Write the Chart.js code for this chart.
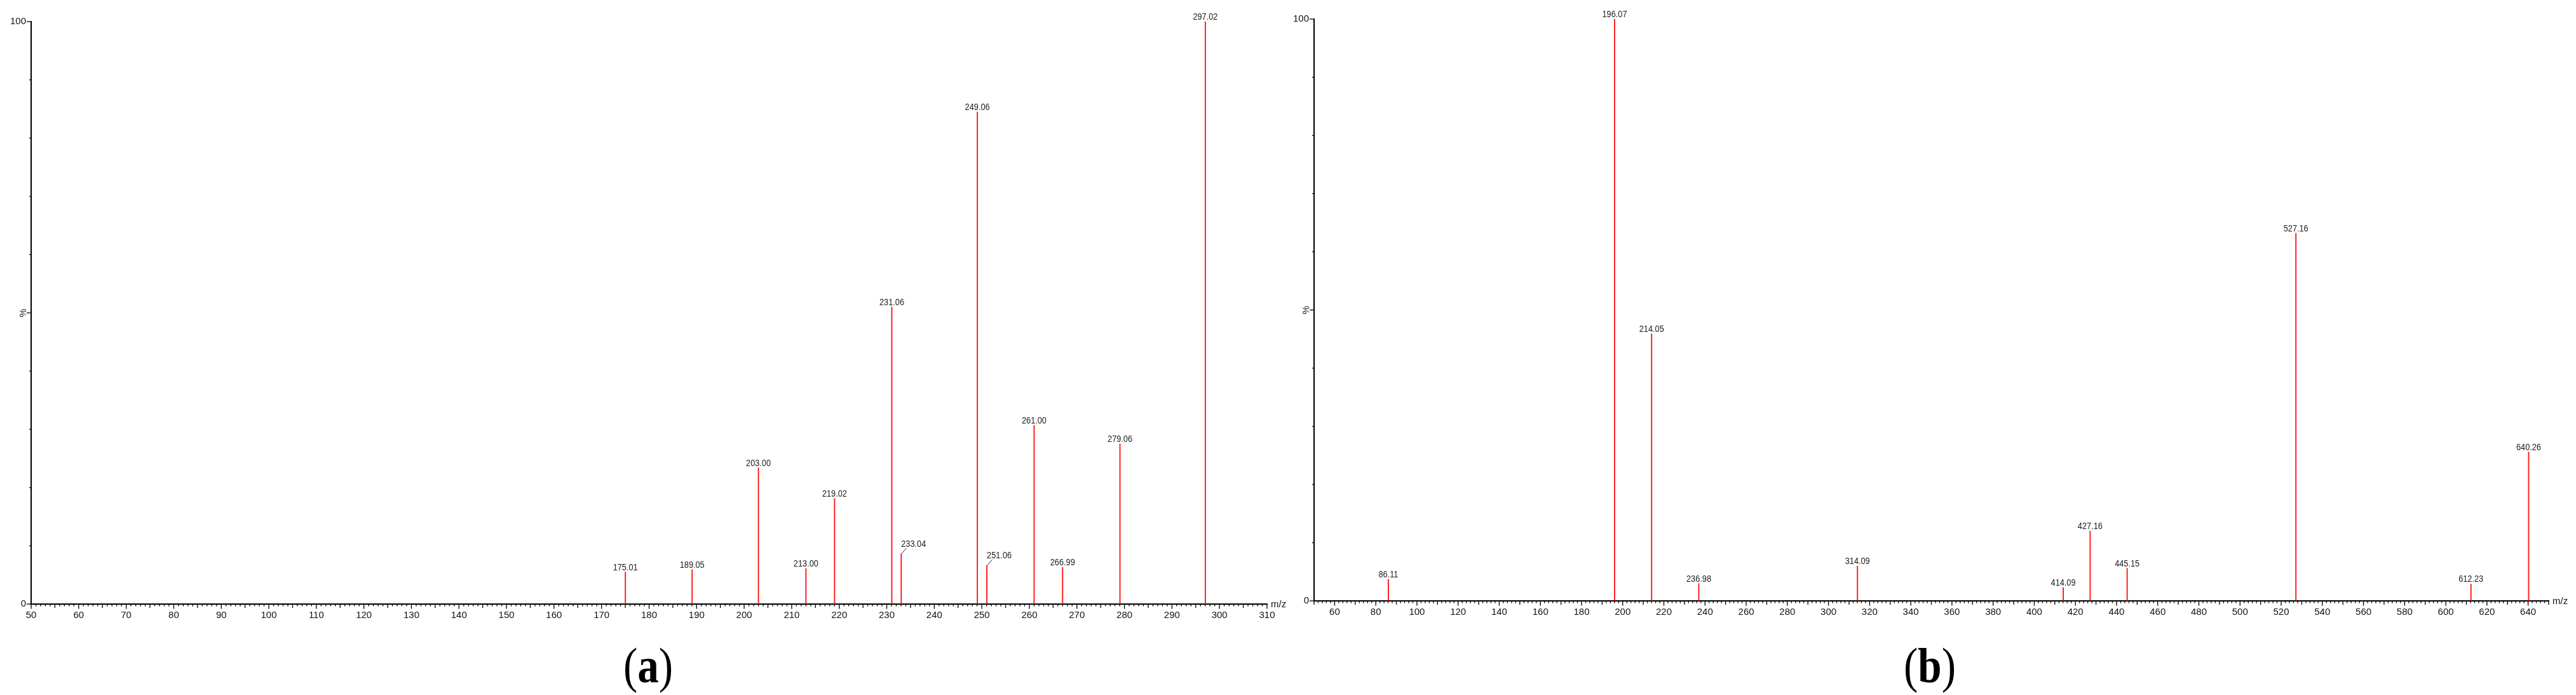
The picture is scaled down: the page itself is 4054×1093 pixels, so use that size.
<!DOCTYPE html>
<html><head><meta charset="utf-8">
<script src="https://cdn.jsdelivr.net/npm/chart.js@4/dist/chart.umd.min.js"></script>
<style>
html,body{margin:0;padding:0;background:#fff;width:4054px;height:1093px;overflow:hidden;position:relative;}
canvas{position:absolute;top:0;}
#ca{left:0;} #cb{left:2030px;}
.plabel{position:absolute;font-family:"Liberation Serif","Times New Roman",serif;font-size:78px;color:#000;line-height:1;white-space:nowrap;transform:translate(-50%,-50%) scaleX(0.86);}
</style></head><body>
<canvas id="ca" width="2030" height="1000"></canvas>
<canvas id="cb" width="2024" height="1000"></canvas>
<div class="plabel" style="left:1020px;top:1047px">(<b>a</b>)</div>
<div class="plabel" style="left:3037px;top:1047px">(<b>b</b>)</div>
<script>
// ---- Panel (a) data ----
const mzA = [175.01, 189.05, 203.00, 213.00, 219.02, 231.06, 233.04, 249.06, 251.06, 261.00, 266.99, 279.06, 297.02];
const intA = [5.5, 5.9, 23.4, 6.1, 18.1, 51.0, 8.6, 84.5, 6.6, 30.7, 6.3, 27.5, 100];
const ticksA = [50, 60, 70, 80, 90, 100, 110, 120, 130, 140, 150, 160, 170, 180, 190, 200, 210, 220, 230, 240, 250, 260, 270, 280, 290, 300, 310];
const leaderA = ['233.04', '251.06'];

// ---- Panel (b) data ----
const mzB = [86.11, 196.07, 214.05, 236.98, 314.09, 414.09, 427.16, 445.15, 527.16, 612.23, 640.26];
const intB = [3.7, 100, 45.9, 3.0, 6.0, 2.3, 12.0, 5.6, 63.2, 2.9, 25.6];
const ticksB = [60, 80, 100, 120, 140, 160, 180, 200, 220, 240, 260, 280, 300, 320, 340, 360, 380, 400, 420, 440, 460, 480, 500, 520, 540, 560, 580, 600, 620, 640];
const leaderB = [];

const yTicks = [0, 100];
const FONT = '"Liberation Sans", Arial, Helvetica, sans-serif';

const spectrumPlugin = {
  id: 'spectrum',
  afterDraw(chart) {
    const o = chart.options.plugins.spectrum;
    const ctx = chart.ctx;
    const xs = chart.scales.x, ys = chart.scales.y;
    const base = ys.getPixelForValue(0);
    const left = chart.chartArea.left, right = chart.chartArea.right;
    ctx.save();
    // x-axis minor/major ticks
    ctx.strokeStyle = '#000';
    ctx.lineWidth = 1.3;
    const nX = Math.round((o.xMax - o.xMin) / o.minorStep);
    for (let n = 0; n <= nX; n++) {
      const v = o.xMin + n * o.minorStep;
      const px = xs.getPixelForValue(v);
      let len = 3.5;
      if (Math.abs(v % o.majorStep) < 1e-6) len = 7.5;
      else if (Math.abs(v % (o.majorStep / 2)) < 1e-6) len = 6;
      ctx.beginPath();
      ctx.moveTo(px, base);
      ctx.lineTo(px, base + len);
      ctx.stroke();
    }
    // y-axis ticks every 10 %
    for (let v = 0; v <= 100; v += 10) {
      const py = ys.getPixelForValue(v);
      const len = (v % 50 === 0) ? 7 : 3;
      ctx.beginPath();
      ctx.moveTo(left - len, py);
      ctx.lineTo(left, py);
      ctx.stroke();
    }
    // "%" label, rotated
    ctx.fillStyle = '#111';
    ctx.font = '15px ' + FONT;
    ctx.save();
    ctx.translate(left - 12, ys.getPixelForValue(50));
    ctx.rotate(-Math.PI / 2);
    ctx.textAlign = 'center';
    ctx.textBaseline = 'middle';
    ctx.fillText('%', 0, 0);
    ctx.restore();
    // m/z label
    ctx.textAlign = 'left';
    ctx.textBaseline = 'middle';
    ctx.fillText('m/z', right + 6, base + 1);
    // peak labels
    const ds = chart.data.datasets[0].data;
    ctx.fillStyle = '#1a1a1a';
    ctx.textBaseline = 'alphabetic';
    ds.forEach((pt) => {
      const px = xs.getPixelForValue(pt.x);
      const py = ys.getPixelForValue(pt.y);
      const text = pt.x.toFixed(2);
      ctx.save();
      if (o.leader.includes(text)) {
        ctx.strokeStyle = '#333';
        ctx.lineWidth = 1;
        ctx.beginPath();
        ctx.moveTo(px, py);
        ctx.lineTo(px + 8.5, py - 9.5);
        ctx.stroke();
        ctx.translate(px, py - 11.5);
        ctx.scale(0.85, 1);
        ctx.textAlign = 'left';
      } else {
        ctx.translate(px, py - 3);
        ctx.scale(0.85, 1);
        ctx.textAlign = 'center';
      }
      ctx.fillText(text, 0, 0);
      ctx.restore();
    });
    ctx.restore();
  }
};

function makeChart(id, mz, inten, tickVals, cfg) {
  return new Chart(document.getElementById(id), {
    type: 'bar',
    data: {
      datasets: [{
        data: mz.map((x, i) => ({ x: x, y: inten[i] })),
        backgroundColor: 'rgb(255,20,20)',
        borderWidth: 0,
        barThickness: 1.2,
        grouped: false
      }]
    },
    options: {
      responsive: false,
      animation: false,
      devicePixelRatio: 1,
      layout: { padding: cfg.padding },
      plugins: {
        legend: { display: false },
        tooltip: { enabled: false },
        spectrum: { xMin: cfg.xMin, xMax: cfg.xMax, minorStep: cfg.minorStep, majorStep: cfg.majorStep, leader: cfg.leader }
      },
      scales: {
        x: {
          type: 'linear', offset: false, min: cfg.xMin, max: cfg.xMax,
          grid: { display: true, drawOnChartArea: false, drawTicks: false, offset: false },
          border: { display: true, color: '#000', width: 2 },
          ticks: { autoSkip: false, maxRotation: 0, minRotation: 0, padding: 9, color: '#111', font: { family: FONT, size: 15 } },
          afterBuildTicks: (s) => { s.ticks = tickVals.map(v => ({ value: v })); },
          afterFit: (s) => { s.height = cfg.xH; s.paddingLeft = 0; s.paddingRight = 0; }
        },
        y: {
          type: 'linear', min: 0, max: 100,
          grid: { display: true, drawOnChartArea: false, drawTicks: false },
          border: { display: true, color: '#000', width: 2 },
          ticks: { autoSkip: false, padding: 8, color: '#111', font: { family: FONT, size: 15 } },
          afterBuildTicks: (s) => { s.ticks = yTicks.map(v => ({ value: v })); },
          afterFit: (s) => { s.width = cfg.yW; s.paddingTop = 0; s.paddingBottom = 0; }
        }
      }
    },
    plugins: [spectrumPlugin]
  });
}

makeChart('ca', mzA, intA, ticksA, {
  xMin: 50, xMax: 310, minorStep: 1, majorStep: 10, leader: leaderA,
  padding: { left: 0, right: 36, top: 34, bottom: 0 }, xH: 50, yW: 49
});
makeChart('cb', mzB, intB, ticksB, {
  xMin: 50, xMax: 650, minorStep: 2, majorStep: 20, leader: leaderB,
  padding: { left: 0, right: 43, top: 30, bottom: 0 }, xH: 55, yW: 38
});
</script>
</body></html>
